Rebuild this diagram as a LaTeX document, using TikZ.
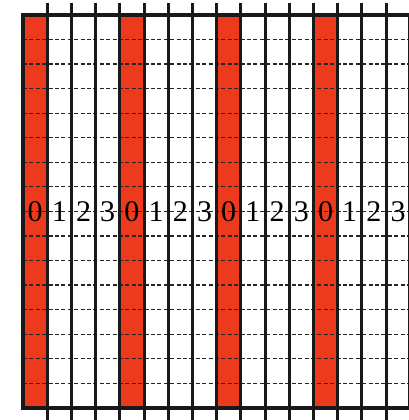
\documentclass[tikz,border=0pt]{standalone}
\usepackage{fontspec}
\setmainfont{Liberation Serif}
\usepackage{tikz}
\definecolor{stripered}{HTML}{EE3A1C}

\begin{document}
\begin{tikzpicture}[x=1pt,y=1pt,
    barline/.style={line width=3pt,black!90,line cap=butt},
    frameline/.style={line width=3.6pt,black!90},
    dashline/.style={line width=1.2pt,black!85,dash pattern=on 4pt off 2.4pt},
    digit/.style={font=\fontsize{30}{30}\selectfont,inner sep=0pt,text=black}]
  \useasboundingbox (0,0) rectangle (408,420);
  % red stripes under every column 0
  \foreach \i in {0,4,8,12}
    \fill[stripered] (23+24.2*\i,12.2) rectangle (23+24.2*\i+24.2,405);
  % dashed rows
  \foreach \j in {1,...,15}
    \draw[dashline] (23,405-24.55*\j) -- (411,405-24.55*\j);
  % digits on the middle row
  \foreach \i in {0,...,15}{
    \pgfmathtruncatemacro{\n}{mod(\i,4)}
    \node[digit] (d\i) at (23+24.2*\i+12.1,405-24.55*8) {\n};
  }
  % column bars, sticking out top and bottom
  \foreach \i in {1,...,15}
    \draw[barline] (23+24.2*\i,0) -- (23+24.2*\i,417);
  % frame
  \draw[frameline] (23,12.2) rectangle (410.2,405);
\end{tikzpicture}
\end{document}
